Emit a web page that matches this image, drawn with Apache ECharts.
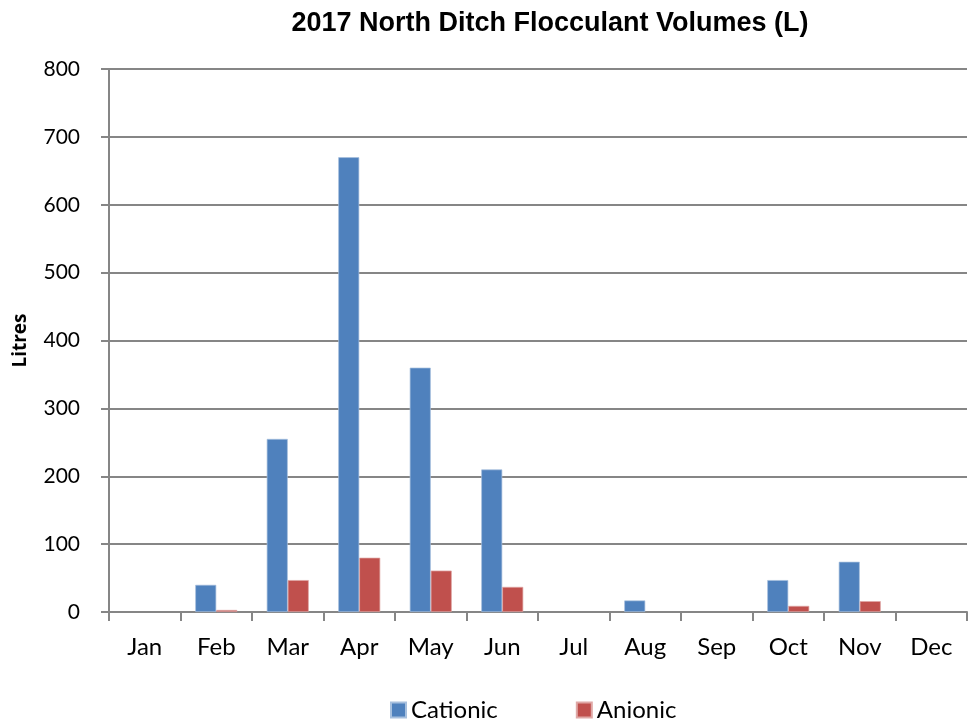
<!DOCTYPE html>
<html><head><meta charset="utf-8">
<script src="https://cdn.jsdelivr.net/npm/echarts@6/dist/echarts.min.js"></script>
<style>html,body{margin:0;padding:0;background:#fff}#c{width:968px;height:725px}</style>
</head><body><div id="c"></div>
<script>
const months = ['Jan','Feb','Mar','Apr','May','Jun','Jul','Aug','Sep','Oct','Nov','Dec'];
const cationic = [0, 40, 255, 670, 360, 210, 0, 17, 0, 47, 74, 0];
const anionic  = [0, 3, 47, 80, 61, 37, 0, 0, 0, 9, 16, 0];
const yTicks = [0, 100, 200, 300, 400, 500, 600, 700, 800];

const font = 'Lato, "Open Sans", sans-serif';
const show = arr => arr.map(v => (v === 0 ? '-' : v));
const chart = echarts.init(document.getElementById('c'));
chart.setOption({
  animation: false,
  title: {
    text: '2017 North Ditch Flocculant Volumes (L)',
    left: 545, top: 5, textAlign: 'center',
    textStyle: {fontFamily: '"Liberation Sans", Arial, sans-serif', fontWeight: 'bold', fontSize: 27, color: '#000'}
  },
  grid: {left: 109, right: 1, top: 69, bottom: 113, containLabel: false, outerBoundsMode: 'none'},
  legend: {
    top: 693, left: 385, itemGap: 78, itemWidth: 15, itemHeight: 15,
    icon: 'rect',
    textStyle: {fontFamily: font, fontSize: 24, color: '#000'},
    data: ['Cationic', 'Anionic']
  },
  xAxis: {
    type: 'category', data: months,
    axisLine: {lineStyle: {color: '#868686', width: 2}},
    axisTick: {show: true, alignWithLabel: false, length: 9, lineStyle: {color: '#868686', width: 2}},
    axisLabel: {fontFamily: font, fontSize: 24, color: '#000', margin: 23}
  },
  yAxis: {
    type: 'value', min: yTicks[0], max: yTicks[yTicks.length - 1], interval: 100,
    name: 'Litres', nameLocation: 'middle', nameGap: 79, nameRotate: 90,
    nameTextStyle: {fontFamily: '"Open Sans", sans-serif', fontWeight: 'bold', fontSize: 19, color: '#000'},
    axisLine: {show: true, lineStyle: {color: '#868686', width: 2}},
    axisTick: {show: true, length: 8, lineStyle: {color: '#868686', width: 2}},
    axisLabel: {fontFamily: font, fontSize: 21, color: '#000', margin: 29},
    splitLine: {lineStyle: {color: '#868686', width: 2}}
  },
  series: [
    {name: 'Cationic', type: 'bar', data: show(cationic), barWidth: 21, barGap: '0%',
     itemStyle: {color: '#4F81BD', borderColor: '#A7C0DE', borderWidth: 0.7}},
    {name: 'Anionic', type: 'bar', data: show(anionic), barWidth: 21,
     itemStyle: {color: '#C0504D', borderColor: '#DFA8A6', borderWidth: 0.7}}
  ]
});
</script></body></html>
